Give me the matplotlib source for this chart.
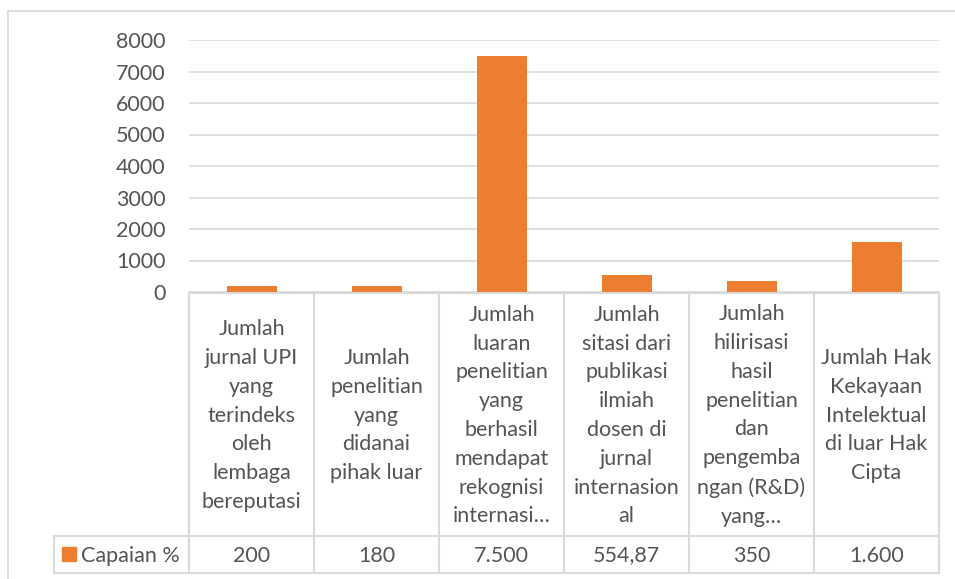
import matplotlib.pyplot as plt
import numpy as np

plt.rcParams['font.family'] = ['Lato', 'DejaVu Sans']

categories = [
    "Jumlah\njurnal UPI\nyang\nterindeks\noleh\nlembaga\nbereputasi",
    "Jumlah\npenelitian\nyang\ndidanai\npihak luar",
    "Jumlah\nluaran\npenelitian\nyang\nberhasil\nmendapat\nrekognisi\ninternasi…",
    "Jumlah\nsitasi dari\npublikasi\nilmiah\ndosen di\njurnal\ninternasion\nal",
    "Jumlah\nhilirisasi\nhasil\npenelitian\ndan\npengemba\nngan (R&D)\nyang…",
    "Jumlah Hak\nKekayaan\nIntelektual\ndi luar Hak\nCipta",
]
values = [200, 180, 7500, 554.87, 350, 1600]
value_labels = ["200", "180", "7.500", "554,87", "350", "1.600"]
series_name = "Capaian %"
yticks = [0, 1000, 2000, 3000, 4000, 5000, 6000, 7000, 8000]

W, H = 955, 579
bar_color = "#ED7D31"
grid_color = "#d9d9d9"
text_color = "#545454"
fs = 15.5

fig = plt.figure(figsize=(W / 100, H / 100), dpi=100)

# overlay axes in pixel coords for the frame and the data table
ov = fig.add_axes([0, 0, 1, 1])
ov.set_xlim(0, W)
ov.set_ylim(H, 0)
ov.axis("off")

# plot area
left, right, top, zero = 189, 939, 40, 292
ax = fig.add_axes([left / W, 1 - zero / H, (right - left) / W, (zero - top) / H])
x = np.arange(len(values))
ax.bar(x, values, width=0.4, color=bar_color, zorder=3)
ax.set_xlim(-0.5, len(values) - 0.5)
ax.set_ylim(0, 8000)
ax.set_yticks(yticks)
ax.set_yticklabels([str(t) for t in yticks], fontsize=fs, color=text_color)
ax.tick_params(axis="y", length=0, pad=17)
ax.set_xticks([])
ax.grid(axis="y", color=grid_color, linewidth=1.2, zorder=0)
for s in ax.spines.values():
    s.set_visible(False)
ax.patch.set_alpha(0)

# chart frame
ov.plot([8, W], [11, 11], color=grid_color, lw=1.2)
ov.plot([8, 8], [11, H], color=grid_color, lw=1.2)

# data table
cols = np.linspace(left, right, len(values) + 1)
row_top, row_mid, row_bot, leg_left = 293, 536, 573, 54
lw = 1.5
ov.plot([left, right], [row_top, row_top], color=grid_color, lw=lw)
ov.plot([leg_left, right], [row_mid, row_mid], color=grid_color, lw=lw)
ov.plot([leg_left, right], [row_bot, row_bot], color=grid_color, lw=lw)
ov.plot([leg_left, leg_left], [row_mid, row_bot], color=grid_color, lw=lw)
for cx in cols:
    ov.plot([cx, cx], [row_top, row_bot], color=grid_color, lw=lw)

for i, (cat, lab) in enumerate(zip(categories, value_labels)):
    cx = (cols[i] + cols[i + 1]) / 2
    ov.text(cx, (row_top + row_mid) / 2 + 1, cat, ha="center", va="center",
            fontsize=fs, color=text_color, linespacing=1.55)
    ov.text(cx, (row_mid + row_bot) / 2 + 1, lab, ha="center", va="center",
            fontsize=fs, color=text_color)

ov.add_patch(plt.Rectangle((62, 547), 14, 14, color=bar_color))
ov.text(81, (row_mid + row_bot) / 2 + 1, series_name, ha="left", va="center",
        fontsize=fs, color=text_color)

fig.savefig("out.png", dpi=100)
